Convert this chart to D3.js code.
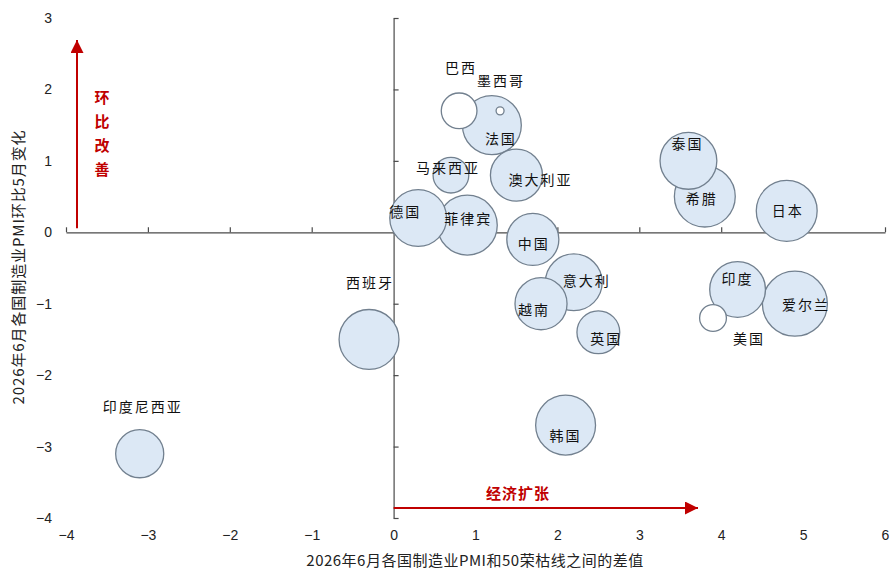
<!DOCTYPE html>
<html>
<head>
<meta charset="utf-8">
<script src="https://cdn.jsdelivr.net/npm/d3@7"></script>
<style>
  html, body { margin: 0; padding: 0; background: #fff; }
  svg { display: block; }
  text { font-family: "Noto Sans CJK SC", "Noto Sans", sans-serif; }
</style>
</head>
<body>
<svg id="chart" width="893" height="571"></svg>
<script>
// Countries, PMI gap vs 50 (x), month-on-month change (y), bubble size (negative = hollow)
const countries = ["印度尼西亚","西班牙","韩国","英国","越南","意大利","中国","菲律宾","德国","马来西亚","澳大利亚","法国","巴西","墨西哥","泰国","希腊","日本","印度","爱尔兰","美国"];
const pmiGap    = [-3.1, -0.3, 2.1, 2.5, 1.8, 2.2, 1.7, 0.9, 0.3, 0.7, 1.5, 1.2, 0.8, 1.3, 3.6, 3.8, 4.8, 4.2, 4.9, 3.9];
const momChange = [-3.1, -1.5, -2.7, -1.4, -1.0, -0.7, -0.1, 0.1, 0.2, 0.8, 0.8, 1.5, 1.7, 1.7, 1.0, 0.5, 0.3, -0.8, -1.0, -1.2];
const bubbleSize = [58, 90, 90, 46, 68, 81, 68, 90, 81, 32, 68, 87, -32, -1.6, 81, 93, 93, 78, 106, -18];

const xTicks = [-4, -3, -2, -1, 0, 1, 2, 3, 4, 5, 6];
const yTicks = [-4, -3, -2, -1, 0, 1, 2, 3];

const xTitle = "2026年6月各国制造业PMI和50荣枯线之间的差值";
const yTitle = "2026年6月各国制造业PMI环比5月变化";
const upNote = "环比改善";
const rightNote = "经济扩张";

// label offsets (px) relative to each bubble centre
const labelOffset = {
  "印度尼西亚": [2, -48], "西班牙": [0, -57], "韩国": [-1, 10], "英国": [7, 6],
  "越南": [-8, 5], "意大利": [12, -2], "中国": [0, 4], "菲律宾": [0, -7],
  "德国": [-14, -7], "马来西亚": [-4, -8], "澳大利亚": [23, 4], "法国": [8, 13],
  "巴西": [1, -44], "墨西哥": [0, -31], "泰国": [-2, -18], "希腊": [-4, 1],
  "日本": [0, -1], "印度": [-1, -11], "爱尔兰": [10, 0], "美国": [35, 20]
};

const svg = d3.select("#chart");
const x = d3.scaleLinear().domain([-4, 6]).range([66, 885]);
const y = d3.scaleLinear().domain([-4, 3]).range([518, 18]);
const r = d3.scaleSqrt().domain([0, 106]).range([0, 32.5]);

const axisColor = "#4a4a4a";

// axis lines through the origin with inward ticks
const gx = svg.append("g").attr("transform", `translate(0,${y(0)})`)
  .call(d3.axisTop(x).tickValues(xTicks).tickSize(5).tickFormat("").tickSizeOuter(0));
const gy = svg.append("g").attr("transform", `translate(${x(0)},0)`)
  .call(d3.axisRight(y).tickValues(yTicks).tickSize(5).tickFormat("").tickSizeOuter(0));
[gx, gy].forEach(g => {
  g.selectAll("path, line").attr("stroke", axisColor).attr("stroke-width", 1.2);
});

// tick labels along the plot edges
const lx = svg.append("g").attr("transform", `translate(0,${y(-4)})`)
  .call(d3.axisBottom(x).tickValues(xTicks).tickSize(0).tickPadding(12).tickFormat(d3.format("d")));
const ly = svg.append("g").attr("transform", `translate(${x(-4) - 12},0)`)
  .call(d3.axisLeft(y).tickValues(yTicks).tickSize(0).tickPadding(2).tickFormat(d3.format("d")));
[lx, ly].forEach(g => {
  g.select(".domain").remove();
  g.selectAll("text").attr("fill", "#222").style("font-size", "14px")
    .style("font-family", "Arial, 'Liberation Sans', sans-serif");
});

// axis titles
svg.append("text").attr("x", 475).attr("y", 566).attr("text-anchor", "middle")
  .style("font-size", "15px").style("letter-spacing", "0.5px").attr("fill", "#222").text(xTitle);
svg.append("text").attr("transform", `translate(24,267) rotate(-90)`).attr("text-anchor", "middle")
  .style("font-size", "15px").style("letter-spacing", "0.9px").attr("fill", "#222").text(yTitle);

// bubbles, larger ones first
const data = countries.map((c, i) => ({ name: c, gx: pmiGap[i], gy: momChange[i], s: bubbleSize[i] }));
const order = data.slice().sort((a, b) => Math.abs(b.s) - Math.abs(a.s));
svg.append("g").selectAll("circle").data(order).join("circle")
  .attr("cx", d => x(d.gx)).attr("cy", d => y(d.gy)).attr("r", d => r(Math.abs(d.s)))
  .attr("fill", d => d.s < 0 ? "#ffffff" : "#dce8f5")
  .attr("stroke", "#72808f").attr("stroke-width", 1.3);

svg.append("g").selectAll("text").data(data).join("text")
  .attr("x", d => x(d.gx) + labelOffset[d.name][0] + 1)
  .attr("y", d => y(d.gy) + labelOffset[d.name][1])
  .attr("text-anchor", "middle").attr("dominant-baseline", "central")
  .style("font-size", "14px").style("letter-spacing", "2px")
  .attr("fill", "#111").text(d => d.name);

// direction arrows
const red = "#c00000";
svg.append("defs").append("marker").attr("id", "head")
  .attr("viewBox", "0 0 10 10").attr("refX", 10).attr("refY", 5)
  .attr("markerWidth", 6.5).attr("markerHeight", 6.5).attr("markerUnits", "strokeWidth")
  .attr("orient", "auto")
  .append("path").attr("d", "M0,0 L10,5 L0,10 Z").attr("fill", red);

svg.append("line").attr("x1", 77).attr("y1", y(0) - 4).attr("x2", 77).attr("y2", 40)
  .attr("stroke", red).attr("stroke-width", 2).attr("marker-end", "url(#head)");
svg.append("line").attr("x1", x(0)).attr("y1", 508).attr("x2", 698).attr("y2", 508)
  .attr("stroke", red).attr("stroke-width", 2).attr("marker-end", "url(#head)");

svg.append("g").selectAll("text").data(upNote.split("")).join("text")
  .attr("x", 102).attr("y", (d, i) => 96 + i * 24)
  .attr("text-anchor", "middle").attr("dominant-baseline", "central")
  .style("font-size", "15px").style("font-weight", "bold").attr("fill", red).text(d => d);
svg.append("text").attr("x", 518).attr("y", 492).attr("text-anchor", "middle")
  .attr("dominant-baseline", "central").style("letter-spacing", "1px")
  .style("font-size", "15px").style("font-weight", "bold").attr("fill", red).text(rightNote);
</script>
</body>
</html>
